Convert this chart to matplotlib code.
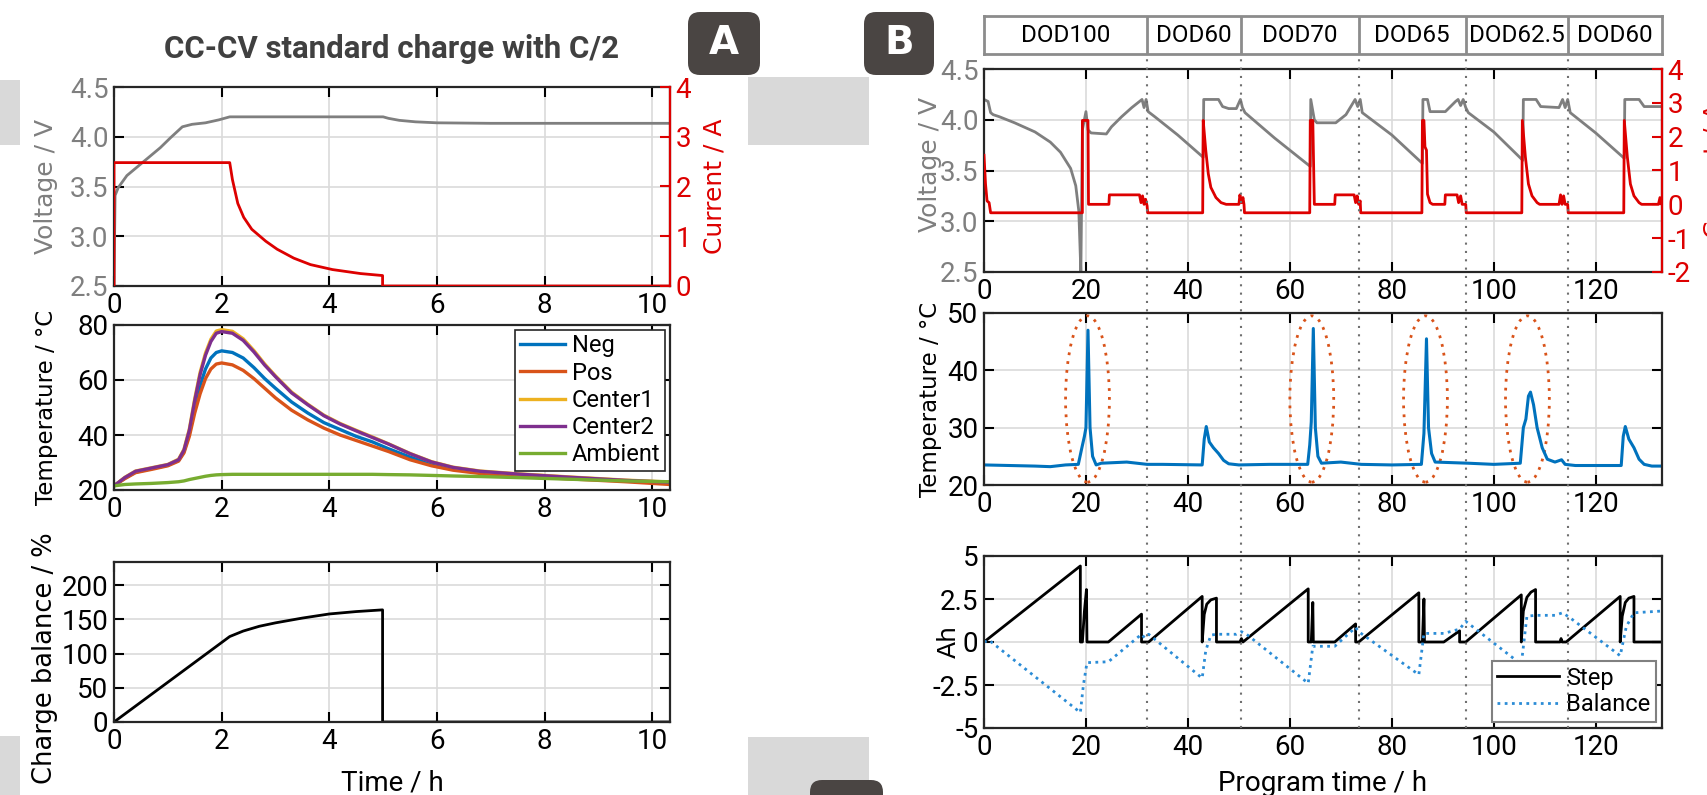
import matplotlib
matplotlib.use('Agg')
import matplotlib.pyplot as plt
import matplotlib.transforms as mtransforms
from matplotlib.patches import Rectangle, FancyBboxPatch, Ellipse
from matplotlib.lines import Line2D

W, H = 1708, 795
NARROW = ['Roboto', 'DejaVu Sans']
WIDE = ['DejaVu Sans']
plt.rcParams['font.family'] = NARROW
plt.rcParams['axes.unicode_minus'] = False

GRAY = '#7F7F7F'
RED = '#DD0000'
C_NEG, C_POS, C_C1, C_C2, C_AMB = '#0072BD', '#D95319', '#EDB120', '#7E2F8E', '#77AC30'
TICK = 20

# ---- panel A: CC-CV charge ----
a_t_volt = [0, 0.02, 0.08, 0.24, 0.55, 0.86, 1.05, 1.27, 1.45, 1.7, 1.95, 2.15,
            5.0, 5.1, 5.3, 5.6, 6.0, 7.0, 10.33]
a_volt = [2.5, 3.41, 3.49, 3.61, 3.75, 3.89, 3.99, 4.10, 4.125, 4.14, 4.17, 4.20,
          4.20, 4.185, 4.165, 4.15, 4.14, 4.135, 4.135]
a_t_curr = [0, 0, 2.15, 2.2, 2.3, 2.41, 2.56, 2.82, 3.03, 3.34, 3.65, 4.06, 4.58, 4.99, 4.99, 10.33]
a_curr = [0, 2.48, 2.48, 2.14, 1.66, 1.38, 1.14, 0.9, 0.74, 0.56, 0.43, 0.33, 0.25, 0.21, 0, 0]

a_t_temp = [0, 0.2, 0.4, 0.7, 1.0, 1.2, 1.3, 1.4, 1.5, 1.6, 1.7, 1.8, 1.9, 2.0, 2.2, 2.4, 2.6,
            2.8, 3.0, 3.3, 3.6, 3.9, 4.2, 4.5, 4.8, 5.1, 5.5, 5.9, 6.3, 6.8, 7.5, 8.5, 9.5, 10.33]
t_neg = [21.5, 24.3, 26.5, 27.8, 29.0, 30.8, 34.0, 40.5, 50.0, 58.0, 64.0, 68.0, 70.0, 70.6, 70.0,
         68.0, 64.5, 60.5, 57.0, 52.0, 48.0, 44.5, 42.0, 39.5, 37.5, 35.0, 32.0, 29.5, 27.8, 26.5,
         25.5, 24.3, 23.3, 22.5]
t_pos = [21.5, 24.1, 26.3, 27.5, 28.8, 30.5, 33.5, 39.5, 48.0, 55.0, 60.5, 64.0, 65.8, 66.2, 65.5,
         63.5, 60.5, 57.0, 53.5, 49.0, 45.5, 42.5, 40.0, 38.0, 36.0, 34.0, 31.0, 28.8, 27.2, 26.0,
         25.0, 24.0, 23.0, 22.0]
t_c1 = [21.5, 24.6, 26.9, 28.1, 29.3, 31.2, 34.8, 42.2, 53.2, 62.8, 69.8, 74.8, 77.8, 78.3, 77.7,
        75.0, 70.7, 65.8, 61.5, 55.6, 51.2, 47.2, 44.2, 41.7, 39.3, 36.8, 33.3, 30.3, 28.3, 26.9,
        25.9, 24.7, 23.6, 22.9]
t_c2 = [21.5, 24.5, 26.8, 28.0, 29.2, 31.0, 34.5, 41.7, 52.5, 62.0, 69.0, 74.0, 77.0, 77.6, 77.0,
        74.4, 70.2, 65.4, 61.2, 55.3, 51.0, 47.0, 44.0, 41.5, 39.1, 36.7, 33.2, 30.2, 28.2, 26.8,
        25.8, 24.6, 23.5, 22.8]
t_amb = [21.5, 22.0, 22.2, 22.4, 22.7, 23.0, 23.3, 23.8, 24.2, 24.6, 25.0, 25.3, 25.5, 25.6, 25.7,
         25.7, 25.7, 25.7, 25.7, 25.7, 25.7, 25.7, 25.7, 25.7, 25.7, 25.6, 25.5, 25.3, 25.1, 24.9,
         24.5, 23.9, 23.3, 23.0]
temp_labels = ['Neg', 'Pos', 'Center1', 'Center2', 'Ambient']

a_t_bal = [0, 2.15, 2.4, 2.7, 3.0, 3.5, 4.0, 4.5, 4.99, 4.99, 10.33]
a_bal = [0, 125, 133, 140, 145, 152, 158, 161.5, 164, 0, 0]

# ---- panel B: DOD program ----
dod_edges = [0, 32, 50.5, 73.5, 94.5, 114.5, 133]
dod_names = ['DOD100', 'DOD60', 'DOD70', 'DOD65', 'DOD62.5', 'DOD60']

b_t_volt = [0, 0.8, 1.3, 1.8, 3, 6, 10, 13, 15, 17, 18, 18.6, 19, 19.3, 20, 20.4, 21, 24, 25, 27,
            29, 31, 31.4, 31.8, 32.2, 33.5, 38, 43, 43.1, 46, 46.8, 48, 49.5, 50.3, 50.7, 51.2, 57,
            64, 64.1, 64.8, 65.3, 69, 71, 72.8, 73.3, 73.8, 74.2, 80, 86, 86.1, 87, 87.5, 90.5,
            92.5, 93, 93.5, 94, 94.5, 95, 100, 105.7, 105.8, 108.3, 109.2, 112.8, 113.5, 114,
            114.5, 115, 120, 125.6, 125.7, 128.5, 129.5, 133]
b_volt = [4.2, 4.18, 4.07, 4.05, 4.03, 3.97, 3.88, 3.78, 3.68, 3.52, 3.35, 3.1, 2.5, 3.9, 4.08, 3.9,
          3.87, 3.86, 3.93, 4.03, 4.12, 4.2, 4.12, 4.2, 4.08, 4.03, 3.85, 3.63, 4.2, 4.2, 4.13,
          4.11, 4.11, 4.2, 4.12, 4.07, 3.82, 3.54, 4.2, 4.0, 3.97, 3.97, 4.05, 4.2, 4.13, 4.2,
          4.07, 3.85, 3.57, 4.2, 4.2, 4.08, 4.08, 4.18, 4.2, 4.14, 4.2, 4.12, 4.07, 3.88, 3.6,
          4.2, 4.2, 4.13, 4.12, 4.2, 4.12, 4.2, 4.07, 3.87, 3.62, 4.2, 4.2, 4.13, 4.13]
b_t_curr = [0, 0.3, 0.6, 1.0, 1.3, 19.3, 19.3, 20.4, 20.5, 24.5, 24.6, 30.5, 30.8, 31.1, 31.4,
            31.7, 32.0, 32.1, 42.9, 43.0, 43.5, 44.0, 44.5, 45.5, 46.5, 47.5, 50.0, 50.2, 50.5,
            50.8, 51.0, 51.1, 63.9, 64.0, 64.5, 64.8, 68.8, 68.9, 72.6, 72.9, 73.2, 73.5, 73.8,
            73.9, 85.9, 86.0, 86.3, 86.5, 86.8, 87.0, 87.5, 88.0, 90.4, 90.5, 92.8, 93.1, 93.5,
            93.8, 94.5, 94.6, 105.5, 105.6, 106.2, 106.8, 107.5, 108.5, 109.0, 112.8, 113.1,
            113.4, 113.7, 114.0, 114.5, 114.6, 125.5, 125.6, 126.2, 126.8, 127.5, 128.5, 129.0,
            132.3, 132.6, 133]
b_curr = [1.45, 0.6, 0.1, 0.05, -0.25, -0.25, 2.48, 2.48, 0, 0, 0.28, 0.28, 0.05, 0.25, 0.0,
          0.15, -0.05, -0.25, -0.25, 2.48, 1.6, 0.9, 0.5, 0.2, 0.05, 0, 0, 0.28, 0.05, 0.2, 0.0,
          -0.25, -0.25, 2.48, 2.48, 0, 0, 0.28, 0.28, 0.05, 0.25, 0.0, 0.1, -0.25, -0.25, 2.48,
          2.48, 1.7, 1.6, 0.3, 0.05, 0, 0, 0.28, 0.28, 0.05, 0.25, 0.0, 0, -0.25, -0.25, 2.48,
          1.4, 0.6, 0.25, 0.05, 0, 0, 0.28, 0.0, 0.25, 0.0, 0, -0.25, -0.25, 2.48, 1.4, 0.6,
          0.25, 0.05, 0, 0, 0.2, 0]

b_t_temp = [0, 5, 10, 13, 16, 18.5, 19.2, 19.7, 20.0, 20.4, 20.8, 21.3, 22.0, 23, 28, 32, 35,
            42.8, 43.2, 43.6, 44.2, 45, 46, 47, 48, 50, 56, 63.5, 63.9, 64.2, 64.6, 65.0, 65.5,
            66.2, 70, 74, 80, 85.8, 86.3, 86.8, 87.2, 87.8, 88.5, 95, 100, 105.2, 105.8, 106.3,
            106.8, 107.2, 107.8, 108.5, 109.5, 110.5, 112, 113.3, 114, 116, 125.0, 125.4, 125.8,
            126.5, 127.5, 128.5, 129.5, 131, 133]
b_temp = [23.5, 23.4, 23.3, 23.2, 23.5, 23.6, 26.5, 28.5, 30, 47, 30, 25, 23.5, 23.8, 24, 23.6,
          23.6, 23.5, 28, 30.2, 27.5, 26.5, 25.5, 24.3, 23.7, 23.5, 23.6, 23.6, 27, 31, 47.3, 30,
          25, 23.8, 24, 23.6, 23.5, 23.6, 29, 45.5, 30, 25.5, 24, 23.8, 23.6, 23.8, 30, 31.5,
          35.5, 36.2, 34, 30, 26.5, 24.5, 24, 24.4, 23.6, 23.4, 23.4, 28.5, 30.2, 28, 26.5, 24.5,
          23.6, 23.3, 23.3]
peak_centers = [20.3, 64.3, 86.6, 106.6]

b_t_step = [0, 18.9, 18.9, 19.3, 19.7, 20.1, 20.2, 24.4, 30.9, 30.9, 32.3, 42.8, 42.8, 43.2,
            43.7, 44.5, 45.6, 45.6, 50.2, 50.5, 50.8, 63.6, 63.6, 64.2, 64.5, 64.6, 68.8, 72.9,
            72.9, 73.5, 85.3, 85.3, 86.0, 86.3, 86.4, 90.2, 93.3, 93.3, 94.5, 105.4, 105.4, 105.8,
            106.5, 107.3, 108.2, 108.2, 113.0, 113.2, 113.4, 114.2, 124.8, 124.8, 125.2, 125.8,
            126.5, 127.5, 127.5, 133]
b_step = [0, 4.42, 0, 0, 1.8, 3.05, 0, 0, 1.62, 0, 0, 2.65, 0, 1.6, 2.2, 2.45, 2.55, 0, 0, 0.2,
          0, 3.09, 0, 0, 2.3, 0, 0, 1.05, 0, 0, 2.86, 0, 0, 2.5, 0, 0, 0.65, 0, 0, 2.74, 0, 1.8,
          2.6, 2.9, 3.05, 0, 0, 0.2, 0, 0, 2.65, 0, 1.5, 2.3, 2.55, 2.65, 0, 0]
b_t_bal = [0, 1, 18.9, 19.5, 20.2, 24.4, 30.9, 31.5, 32.3, 42.8, 43.5, 44.5, 45.6, 49.5, 50.5,
           51.5, 63.6, 64.5, 68.8, 72.9, 73.5, 85.3, 86.3, 90.2, 93.3, 94.5, 105.4, 106.5, 108.2,
           112, 113.5, 115, 124.8, 126, 127.5, 133]
b_bal = [0, 0.1, -4.1, -2.5, -1.2, -1.15, 0.45, 0.25, 0.45, -2.1, -0.5, 0.4, 0.45, 0.45, 0.6,
         0.45, -2.4, -0.25, -0.25, 0.85, 0.6, -1.9, 0.5, 0.5, 0.75, 1.2, -1.3, 1.5, 1.55, 1.55,
         1.7, 1.4, -0.8, 0.9, 1.7, 1.8]


fig = plt.figure(figsize=(W / 100, H / 100), dpi=100)


def box(l, t, r, b):
    return fig.add_axes([l / W, 1 - b / H, (r - l) / W, (b - t) / H])


def style(ax, right=True):
    ax.grid(True, color='#DADADA', lw=1.2)
    ax.set_axisbelow(True)
    ax.tick_params(direction='in', top=True, right=right, length=7, width=1.5,
                   labelsize=TICK, pad=4)
    for s in ax.spines.values():
        s.set_linewidth(1.6)
        s.set_color('#262626')


def twin_red(ax, ylim, ticks):
    r = ax.twinx()
    r.set_ylim(*ylim)
    r.set_yticks(ticks)
    r.tick_params(direction='in', length=7, width=1.5, colors=RED, labelsize=TICK, pad=4)
    r.spines['right'].set_color(RED)
    r.spines['right'].set_linewidth(1.6)
    for s in ['left', 'top', 'bottom']:
        r.spines[s].set_visible(False)
    return r


# ---------- A top ----------
axA1 = box(114, 87, 670, 286)
style(axA1, right=False)
axA1.plot(a_t_volt, a_volt, color=GRAY, lw=2)
axA1.set_xlim(0, 10.33)
axA1.set_ylim(2.5, 4.5)
axA1.set_yticks([2.5, 3.0, 3.5, 4.0, 4.5])
axA1.set_yticklabels(['2.5', '3.0', '3.5', '4.0', '4.5'])
axA1.set_xticks([0, 2, 4, 6, 8, 10])
axA1.tick_params(axis='y', labelcolor=GRAY)
axA1.set_ylabel('Voltage / V', color=GRAY, family=WIDE, fontsize=18)
axA1.yaxis.set_label_coords(-0.10, 0.5)
axA1r = twin_red(axA1, (0, 4), [0, 1, 2, 3, 4])
axA1r.plot(a_t_curr, a_curr, color=RED, lw=2)
axA1r.set_ylabel('Current / A', color=RED, family=WIDE, fontsize=18)
axA1r.yaxis.set_label_coords(1.059, 0.5)

# ---------- A middle ----------
axA2 = box(114, 325, 670, 490)
style(axA2)
for vals, c, lab in zip([t_neg, t_pos, t_c1, t_c2, t_amb],
                        [C_NEG, C_POS, C_C1, C_C2, C_AMB], temp_labels):
    axA2.plot(a_t_temp, vals, color=c, lw=2.4, label=lab)
axA2.set_xlim(0, 10.33)
axA2.set_ylim(20, 80)
axA2.set_yticks([20, 40, 60, 80])
axA2.set_xticks([0, 2, 4, 6, 8, 10])
axA2.set_ylabel('Temperature / °C', family=WIDE, fontsize=16.5)
axA2.yaxis.set_label_coords(-0.10, 0.5)
leg = axA2.legend(loc='upper right', fontsize=17, frameon=True, fancybox=False,
                  framealpha=1, edgecolor='#262626', handlelength=1.9, borderaxespad=0.2,
                  labelspacing=0.18, handletextpad=0.3, borderpad=0.2)
leg.get_frame().set_linewidth(1.2)

# ---------- A bottom ----------
axA3 = box(114, 562, 670, 722)
style(axA3)
axA3.plot(a_t_bal, a_bal, color='black', lw=2)
axA3.set_xlim(0, 10.33)
axA3.set_ylim(0, 234)
axA3.set_yticks([0, 50, 100, 150, 200])
axA3.set_xticks([0, 2, 4, 6, 8, 10])
axA3.set_ylabel('Charge balance / %', family=WIDE, fontsize=18.5)
axA3.yaxis.set_label_coords(-0.10, 0.40)
axA3.set_xlabel('Time / h', fontsize=20, labelpad=11)

fig.text(392 / W, 1 - 49 / H, 'CC-CV standard charge with C/2', ha='center', va='center',
         fontsize=22.5, weight='bold', color='#404040')

# ---------- B DOD header ----------
axD = box(984, 16, 1662, 54)
axD.set_xlim(0, 133)
axD.set_ylim(0, 1)
axD.set_xticks([])
axD.set_yticks([])
for s in axD.spines.values():
    s.set_color('#8C8C8C')
    s.set_linewidth(2)
for x in dod_edges[1:-1]:
    axD.axvline(x, color='#8C8C8C', lw=2)
for x0, x1, name in zip(dod_edges[:-1], dod_edges[1:], dod_names):
    axD.text((x0 + x1) / 2, 0.5, name, ha='center', va='center', fontsize=17.5)

# ---------- B top ----------
axB1 = box(984, 69, 1662, 272)
style(axB1, right=False)
axB1.plot(b_t_volt, b_volt, color=GRAY, lw=2)
axB1.set_xlim(0, 133)
axB1.set_ylim(2.5, 4.5)
axB1.set_yticks([2.5, 3.0, 3.5, 4.0, 4.5])
axB1.set_yticklabels(['2.5', '3.0', '3.5', '4.0', '4.5'])
axB1.set_xticks(range(0, 121, 20))
axB1.tick_params(axis='y', labelcolor=GRAY)
axB1.set_ylabel('Voltage / V', color=GRAY, family=WIDE, fontsize=18)
axB1.yaxis.set_label_coords(-0.062, 0.53)
axB1r = twin_red(axB1, (-2, 4), [-2, -1, 0, 1, 2, 3, 4])
axB1r.plot(b_t_curr, b_curr, color=RED, lw=2)
# the slide crops this label at the right edge
axB1r.set_ylabel('Current / A', color=RED, family=WIDE, fontsize=18)
axB1r.yaxis.set_label_coords(1.06, 0.5)

# ---------- B middle ----------
axB2 = box(984, 313, 1662, 485)
style(axB2)
axB2.plot(b_t_temp, b_temp, color=C_NEG, lw=2.2)
for c in peak_centers:
    axB2.add_patch(Ellipse((c, 35), 8.6, 29, fill=False, edgecolor=C_POS, lw=2,
                           linestyle=(0, (1, 2.2))))
axB2.set_xlim(0, 133)
axB2.set_ylim(20, 50)
axB2.set_yticks([20, 30, 40, 50])
axB2.set_xticks(range(0, 121, 20))
axB2.set_ylabel('Temperature / °C', family=WIDE, fontsize=16.5)
axB2.yaxis.set_label_coords(-0.062, 0.5)

# ---------- B bottom ----------
axB3 = box(984, 556, 1662, 728)
style(axB3)
axB3.plot(b_t_step, b_step, color='black', lw=2, label='Step')
axB3.plot(b_t_bal, b_bal, color='#2B8CD6', lw=2, linestyle=(0, (1, 1.6)), label='Balance')
axB3.set_xlim(0, 133)
axB3.set_ylim(-5, 5)
axB3.set_yticks([-5, -2.5, 0, 2.5, 5])
axB3.set_yticklabels(['-5', '-2.5', '0', '2.5', '5'])
axB3.set_xticks(range(0, 121, 20))
axB3.set_ylabel('Ah', family=WIDE, fontsize=18)
axB3.yaxis.set_label_coords(-0.034, 0.5)
axB3.set_xlabel('Program time / h', fontsize=20, labelpad=7)
leg2 = axB3.legend(loc='lower right', fontsize=17, frameon=True, fancybox=False,
                   framealpha=1, edgecolor='#808080', handlelength=2.6, borderaxespad=0.25,
                   labelspacing=0.15, handletextpad=0.3, borderpad=0.25)
leg2.get_frame().set_linewidth(1.5)

# dotted DOD boundaries running through the whole B column
trans = mtransforms.blended_transform_factory(axB1.transData, fig.transFigure)
for x in dod_edges[1:-1]:
    fig.add_artist(Line2D([x, x], [1 - 728 / H, 1 - 54 / H], transform=trans,
                          color='#707070', lw=1.5, linestyle=(0, (1, 3)), zorder=5))

# slide decorations
ins = fig.dpi_scale_trans
for (l, t, r, b) in [(0, 80, 20, 145), (748, 77, 869, 145), (0, 736, 20, 795),
                     (748, 737, 869, 795)]:
    fig.patches.append(Rectangle((l / 100, (H - b) / 100), (r - l) / 100, (b - t) / 100,
                                 transform=ins, facecolor='#D9D9D9', edgecolor='none'))
for (l, t, r, b, txt) in [(688, 12, 760, 75, 'A'), (864, 12, 934, 75, 'B'),
                          (810, 780, 883, 815, '')]:
    fig.patches.append(FancyBboxPatch((l / 100, (H - b) / 100), (r - l) / 100, (b - t) / 100,
                                      boxstyle='round,pad=0,rounding_size=0.12',
                                      transform=ins, facecolor='#4A4543', edgecolor='none'))
    if txt:
        fig.text((l + r) / 2 / W, 1 - (t + b) / 2 / H, txt, ha='center', va='center',
                 color='white', fontsize=28, weight='bold', family=WIDE)

fig.savefig('out.png', dpi=100)
